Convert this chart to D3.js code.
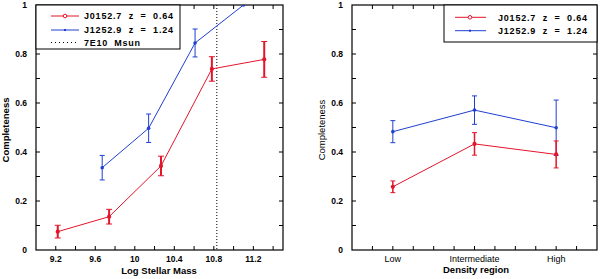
<!DOCTYPE html>
<html>
<head>
<meta charset="utf-8">
<script src="https://cdn.jsdelivr.net/npm/d3@7"></script>
<style>
  body { margin: 0; background: #fff; }
  svg { display: block; font-family: "Liberation Sans", Arial, sans-serif; }
  .tick-label { font-size: 8.5px; font-weight: bold; }
  .axis-title { font-size: 9.5px; font-weight: bold; }
  .cat-label { font-size: 9px; }
  .legend-text { font-size: 9px; font-weight: bold; }
</style>
</head>
<body>
<div id="chart-container"></div>
<script>
// chart size
const width = 600;
const height = 279;

// left panel: completeness vs log stellar mass
const massRed = [9.22, 9.74, 10.265, 10.78, 11.31];
const compRed = [0.075, 0.136, 0.343, 0.739, 0.778];
const errRed = [0.026, 0.03, 0.04, 0.05, 0.073];
const massBlue = [9.67, 10.14, 10.61, 11.1];
const compBlue = [0.336, 0.497, 0.845, 1.0];
const errBlue = [0.05, 0.058, 0.057, 0];
const massCut = 10.83; // 7E10 Msun
const massTicks = [9.2, 9.6, 10, 10.4, 10.8, 11.2];

// right panel: completeness vs density region
const regions = ["Low", "Intermediate", "High"];
const densRed = [0.258, 0.433, 0.39];
const densErrRed = [0.024, 0.046, 0.055];
const densBlue = [0.483, 0.571, 0.499];
const densErrBlue = [0.045, 0.058, 0.113];

const yTicks = [0, 0.2, 0.4, 0.6, 0.8, 1];
const legendLabels = ["J0152.7  z  =  0.64", "J1252.9  z  =  1.24", "7E10  Msun"];

const red = "#e3152b";
const blue = "#1f3fd2";

const svg = d3.select("#chart-container")
  .append("svg")
  .attr("width", width)
  .attr("height", height);

const plotTop = 5, plotBottom = 250;
const y = d3.scaleLinear().domain([0, 1]).range([plotBottom, plotTop]);

// draws frame, inward ticks on all sides and y labels
function drawFrame(x, minorX, left, right) {
  const g = svg.append("g");
  const tl = 4;
  g.selectAll(".xt").data(minorX).enter().append("line")
    .attr("x1", d => x(d)).attr("x2", d => x(d))
    .attr("y1", plotBottom).attr("y2", plotBottom - tl)
    .attr("stroke", "#000");
  g.selectAll(".xtt").data(minorX).enter().append("line")
    .attr("x1", d => x(d)).attr("x2", d => x(d))
    .attr("y1", plotTop).attr("y2", plotTop + tl)
    .attr("stroke", "#000");
  const yMinor = d3.range(0.1, 1, 0.1);
  g.selectAll(".yt").data(yMinor).enter().append("line")
    .attr("x1", left).attr("x2", left + tl)
    .attr("y1", d => y(d)).attr("y2", d => y(d))
    .attr("stroke", "#000");
  g.selectAll(".ytr").data(yMinor).enter().append("line")
    .attr("x1", right).attr("x2", right - tl)
    .attr("y1", d => y(d)).attr("y2", d => y(d))
    .attr("stroke", "#000");
  g.selectAll(".yl").data(yTicks).enter().append("text")
    .attr("class", "tick-label")
    .attr("x", left - 9)
    .attr("y", d => y(d) + 3)
    .attr("text-anchor", "end")
    .text(d => d3.format("")(d));
  g.append("rect")
    .attr("x", left).attr("y", plotTop)
    .attr("width", right - left).attr("height", plotBottom - plotTop)
    .attr("fill", "none").attr("stroke", "#000").attr("stroke-width", 1.2);
  return g;
}

function drawSeries(g, x, xs, ys, es, color, errWidth, cap, r, clipId) {
  const line = d3.line().x(d => x(d[0])).y(d => y(d[1]));
  const s = g.append("g");
  if (clipId) s.attr("clip-path", `url(#${clipId})`);
  s.append("path")
    .datum(xs.map((d, i) => [d, ys[i]]))
    .attr("d", line)
    .attr("fill", "none")
    .attr("stroke", color)
    .attr("stroke-width", 1);
  xs.forEach((d, i) => {
    if (es[i] > 0) {
      s.append("line")
        .attr("x1", x(d)).attr("x2", x(d))
        .attr("y1", y(ys[i] - es[i])).attr("y2", y(ys[i] + es[i]))
        .attr("stroke", color).attr("stroke-width", errWidth);
      [ys[i] - es[i], ys[i] + es[i]].forEach(v => {
        s.append("line")
          .attr("x1", x(d) - cap).attr("x2", x(d) + cap)
          .attr("y1", y(v)).attr("y2", y(v))
          .attr("stroke", color).attr("stroke-width", 1);
      });
    }
    s.append("circle")
      .attr("cx", x(d)).attr("cy", y(ys[i]))
      .attr("r", r).attr("fill", color);
  });
}

// ---------- left panel ----------
const xL = d3.scaleLinear().domain([9, 11.5]).range([36, 283]);
const gL = drawFrame(xL, d3.range(9.2, 11.5, 0.2), 36, 283);

svg.append("defs").append("clipPath").attr("id", "clipL")
  .append("rect").attr("x", 36).attr("y", plotTop)
  .attr("width", 283 - 36).attr("height", plotBottom - plotTop);

gL.selectAll(".xl").data(massTicks).enter().append("text")
  .attr("class", "tick-label")
  .attr("x", d => xL(d)).attr("y", 262)
  .attr("text-anchor", "middle")
  .text(d => d);

gL.append("line")
  .attr("x1", xL(massCut)).attr("x2", xL(massCut))
  .attr("y1", plotTop).attr("y2", plotBottom)
  .attr("stroke", "#000").attr("stroke-dasharray", "1,2");

drawSeries(gL, xL, massBlue, compBlue, errBlue, blue, 1, 2.5, 1.8, "clipL");
drawSeries(gL, xL, massRed, compRed, errRed, red, 2, 3, 2.1, "clipL");

svg.append("text").attr("class", "axis-title")
  .attr("x", 159).attr("y", 274).attr("text-anchor", "middle")
  .text("Log Stellar Mass");
svg.append("text").attr("class", "axis-title")
  .attr("transform", "translate(9,130) rotate(-90)")
  .attr("text-anchor", "middle")
  .text("Completeness");

// left legend
gL.append("rect")
  .attr("x", 36).attr("y", plotTop).attr("width", 144).attr("height", 44)
  .attr("fill", "#fff").attr("stroke", "#000").attr("stroke-width", 1);
[[red, 16], [blue, 30]].forEach((d, i) => {
  gL.append("line").attr("x1", 51).attr("x2", 79).attr("y1", d[1]).attr("y2", d[1])
    .attr("stroke", d[0]);
  if (i === 0) {
    gL.append("circle").attr("cx", 65).attr("cy", d[1]).attr("r", 1.8)
      .attr("fill", "#fff").attr("stroke", d[0]);
  } else {
    gL.append("rect").attr("x", 64).attr("y", d[1] - 1).attr("width", 2).attr("height", 2)
      .attr("fill", d[0]);
  }
});
gL.append("line").attr("x1", 51).attr("x2", 79).attr("y1", 42.5).attr("y2", 42.5)
  .attr("stroke", "#000").attr("stroke-dasharray", "1,3");
gL.selectAll(".lgL").data(legendLabels).enter().append("text")
  .attr("class", "legend-text")
  .attr("xml:space", "preserve")
  .attr("x", 84)
  .attr("y", (d, i) => [19, 33, 46][i])
  .attr("textLength", (d, i) => [89, 89, 56][i])
  .attr("lengthAdjust", "spacing")
  .text(d => d);

// ---------- right panel ----------
const xR = d3.scaleLinear().domain([0.5, 3.5]).range([352, 597]);
const gR = drawFrame(xR, d3.range(0.75, 3.5, 0.25), 352, 597);

gR.selectAll(".xl").data(regions).enter().append("text")
  .attr("class", "cat-label")
  .attr("x", (d, i) => xR(i + 1)).attr("y", 262)
  .attr("text-anchor", "middle")
  .text(d => d);

const idx = regions.map((d, i) => i + 1);
drawSeries(gR, xR, idx, densBlue, densErrBlue, blue, 1, 2.5, 1.8);
drawSeries(gR, xR, idx, densRed, densErrRed, red, 1.5, 2.5, 2.1);

svg.append("text").attr("class", "axis-title")
  .attr("x", 476).attr("y", 273).attr("text-anchor", "middle")
  .text("Density region");
svg.append("text").attr("class", "axis-title")
  .style("font-weight", "normal")
  .attr("transform", "translate(325,130) rotate(-90)")
  .attr("text-anchor", "middle")
  .text("Completeness");

// right legend
gR.append("rect")
  .attr("x", 444).attr("y", plotTop).attr("width", 153).attr("height", 37)
  .attr("fill", "#fff").attr("stroke", "#000").attr("stroke-width", 1);
[[red, 17.3], [blue, 30.7]].forEach((d, i) => {
  gR.append("line").attr("x1", 455).attr("x2", 486).attr("y1", d[1]).attr("y2", d[1])
    .attr("stroke", d[0]);
  if (i === 0) {
    gR.append("circle").attr("cx", 470).attr("cy", d[1]).attr("r", 1.8)
      .attr("fill", "#fff").attr("stroke", d[0]);
  } else {
    gR.append("rect").attr("x", 469).attr("y", d[1] - 1).attr("width", 2).attr("height", 2)
      .attr("fill", d[0]);
  }
});
gR.selectAll(".lgR").data(legendLabels.slice(0, 2)).enter().append("text")
  .attr("class", "legend-text")
  .attr("xml:space", "preserve")
  .attr("x", 498)
  .attr("y", (d, i) => [20.5, 34][i])
  .attr("textLength", 89)
  .attr("lengthAdjust", "spacing")
  .text(d => d);
</script>
</body>
</html>
